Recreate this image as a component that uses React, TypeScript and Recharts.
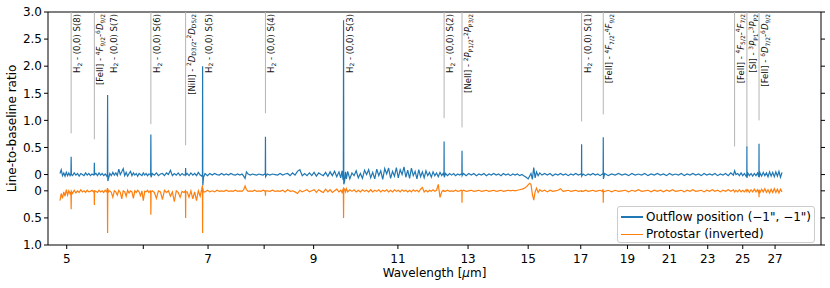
import { LineChart, Line, XAxis, YAxis, ReferenceLine } from "recharts";

// Wavelength grid (µm), shared by both spectra
const wavelengths = [
  4.92, 4.935, 4.95, 4.965, 4.98, 4.995, 5.01, 5.025, 5.04, 5.05, 5.053, 5.056,
  5.07, 5.09, 5.11, 5.13, 5.15, 5.17, 5.19, 5.21, 5.23, 5.25, 5.27, 5.29, 5.31, 5.33, 5.337, 5.34, 5.343,
  5.36, 5.38, 5.4, 5.42, 5.44, 5.46, 5.48, 5.5, 5.508, 5.511, 5.514,
  5.525, 5.54, 5.56, 5.58, 5.6, 5.62, 5.64, 5.66, 5.68, 5.7, 5.72, 5.74, 5.76, 5.78, 5.8, 5.82, 5.84, 5.86, 5.88, 5.9, 5.92, 5.94, 5.96, 5.98, 6.0, 6.02, 6.04, 6.06, 6.08, 6.1, 6.106, 6.109, 6.112,
  6.13, 6.16, 6.19, 6.22, 6.25, 6.28, 6.31, 6.34, 6.37, 6.4, 6.43, 6.46, 6.49, 6.52, 6.55, 6.58, 6.61, 6.633, 6.636, 6.639,
  6.66, 6.69, 6.72, 6.75, 6.78, 6.81, 6.84, 6.87, 6.895, 6.907, 6.91, 6.913, 6.925,
  6.95, 6.99, 7.03, 7.07, 7.11, 7.15, 7.19, 7.23, 7.27, 7.31, 7.35, 7.39, 7.43, 7.47, 7.51, 7.55, 7.59, 7.62, 7.645, 7.67, 7.7, 7.74, 7.78, 7.82, 7.86, 7.9, 7.94, 7.98, 8.01, 8.022, 8.025, 8.028,
  8.06, 8.11, 8.16, 8.21, 8.26, 8.31, 8.36, 8.41, 8.46, 8.51, 8.56, 8.61, 8.66, 8.71, 8.76, 8.81, 8.86, 8.91, 8.96, 9.01, 9.06, 9.11, 9.16, 9.21, 9.26, 9.31, 9.36, 9.41, 9.46, 9.51, 9.56, 9.6, 9.63, 9.65, 9.66, 9.665, 9.67, 9.69, 9.71, 9.73,
  9.76, 9.81, 9.86, 9.91, 9.96, 10.01, 10.06, 10.11, 10.16, 10.21, 10.26, 10.31, 10.36, 10.41, 10.46, 10.51, 10.56, 10.61, 10.66, 10.71, 10.76, 10.81, 10.86, 10.91, 10.96, 11.01, 11.06, 11.11, 11.16, 11.21, 11.26, 11.31, 11.36, 11.41, 11.46, 11.51, 11.56, 11.61, 11.66, 11.71, 11.76, 11.81, 11.86, 11.91, 11.96, 12.01, 12.06, 12.11, 12.16, 12.21, 12.25, 12.275, 12.279, 12.283,
  12.32, 12.38, 12.44, 12.5, 12.56, 12.62, 12.68, 12.74, 12.79, 12.809, 12.814, 12.819,
  12.86, 12.94, 13.02, 13.1, 13.18, 13.26, 13.34, 13.42, 13.5, 13.58, 13.66, 13.74, 13.82, 13.9, 13.98, 14.06, 14.14, 14.22, 14.3, 14.38, 14.46, 14.54, 14.62, 14.7, 14.78, 14.84, 14.9, 14.95, 15.0, 15.05, 15.1, 15.15, 15.2, 15.25, 15.3, 15.36, 15.42, 15.5,
  15.6, 15.7, 15.8, 15.9, 16.0, 16.1, 16.2, 16.3, 16.4, 16.5, 16.6, 16.7, 16.8, 16.9, 17.0, 17.03, 17.035, 17.04,
  17.1, 17.2, 17.3, 17.4, 17.5, 17.6, 17.7, 17.8, 17.9, 17.93, 17.936, 17.942,
  18.0, 18.15, 18.3, 18.45, 18.6, 18.75, 18.9, 19.05, 19.2, 19.35, 19.5, 19.65, 19.8, 19.95, 20.1, 20.25, 20.4, 20.55, 20.7, 20.85, 21.0, 21.15, 21.3, 21.45, 21.6, 21.75, 21.9, 22.05, 22.2, 22.35, 22.5, 22.65, 22.8, 22.95, 23.1, 23.25, 23.4, 23.55, 23.7, 23.85, 24.0, 24.15, 24.3, 24.45, 24.52, 24.6,
  24.7, 24.8, 24.9, 25.0, 25.1, 25.2, 25.243, 25.249, 25.255,
  25.3, 25.4, 25.5, 25.6, 25.7, 25.8, 25.9, 25.95, 25.982, 25.988, 25.994,
  26.05, 26.15, 26.25, 26.35, 26.45, 26.55, 26.65, 26.75, 26.85, 26.95, 27.05, 27.15, 27.25, 27.35, 27.45,
];

// Outflow position (-1", -1"), line-to-baseline ratio
const outflow = [
  0.02, 0.09, -0.02, 0.03, -0.03, 0.04, -0.02, 0.03, -0.02, 0.01, 0.33, 0.0,
  -0.02, 0.03, -0.01, 0.02, -0.03, 0.02, 0.0, -0.02, 0.03, -0.01, 0.02, -0.02, 0.01, -0.01, 0.0, 0.22, 0.0,
  0.02, -0.02, 0.03, -0.01, 0.02, -0.02, 0.01, -0.03, 0.0, 1.47, -0.12,
  -0.06, 0.02, -0.02, 0.04, -0.01, 0.03, -0.02, 0.1, 0.0, 0.05, 0.11, -0.02, 0.04, -0.03, 0.02, 0.06, -0.02, 0.03, -0.01, 0.02, -0.03, 0.02, 0.0, -0.02, 0.03, -0.01, 0.02, -0.02, 0.01, 0.0, -0.02, 0.74, -0.05,
  0.02, -0.01, 0.03, -0.02, 0.01, 0.02, -0.02, 0.03, 0.0, 0.08, -0.02, 0.02, -0.01, 0.03, -0.02, 0.02, -0.01, 0.0, 0.12, -0.01,
  0.02, -0.02, 0.03, -0.01, 0.02, -0.02, 0.04, -0.01, -0.03, 0.0, 2.0, -0.2, -0.05,
  0.02, -0.02, 0.02, -0.01, 0.02, 0.0, -0.01, 0.02, -0.01, 0.01, -0.01, 0.02, 0.0, -0.01, 0.01, -0.01, 0.01, -0.03, -0.07, 0.05, 0.01, -0.01, 0.01, 0.0, -0.01, 0.01, 0.0, -0.01, 0.01, 0.0, 0.7, -0.04,
  0.01, -0.01, 0.01, 0.0, -0.01, 0.02, -0.01, 0.01, 0.02, -0.02, 0.03, -0.01, 0.06, 0.09, -0.02, 0.02, -0.02, 0.03, -0.02, 0.04, -0.03, 0.03, 0.0, -0.02, 0.04, -0.03, 0.05, -0.02, 0.06, -0.04, 0.05, -0.06, 0.07, -0.08, -0.1, 2.85, -0.18, -0.12, 0.05, -0.08,
  0.06, -0.08, 0.03, -0.02, 0.07, -0.06, 0.02, -0.07, 0.08, 0.0, 0.09, -0.06, 0.04, -0.08, 0.1, -0.02, 0.07, -0.09, 0.11, 0.01, 0.12, -0.07, 0.06, -0.03, 0.13, -0.06, 0.09, 0.0, 0.14, -0.05, 0.08, -0.07, 0.12, -0.02, 0.06, -0.08, 0.09, -0.04, 0.05, -0.06, 0.07, -0.02, 0.04, -0.05, 0.05, -0.02, 0.03, -0.04, 0.04, -0.02, 0.02, -0.02, 0.61, -0.05,
  0.02, -0.02, 0.02, -0.01, 0.02, -0.02, 0.01, -0.01, 0.01, 0.0, 0.44, -0.02,
  0.02, -0.02, 0.02, -0.01, 0.02, -0.02, 0.01, -0.01, 0.02, -0.02, 0.01, -0.01, 0.02, -0.01, 0.01, -0.02, 0.02, -0.01, 0.01, -0.02, 0.01, -0.01, 0.01, -0.02, 0.0, -0.02, -0.04, -0.06, -0.08, -0.03, 0.02, -0.09, 0.13, -0.06, 0.05, -0.02, 0.03, -0.01,
  0.02, -0.01, 0.02, -0.02, 0.01, -0.01, 0.02, -0.01, 0.01, -0.02, 0.01, -0.01, 0.02, -0.01, 0.01, -0.01, 0.56, -0.03,
  0.01, -0.02, 0.01, -0.01, 0.02, -0.01, 0.01, -0.02, 0.01, 0.0, 0.69, -0.08,
  0.02, -0.02, 0.01, -0.01, 0.02, -0.01, 0.01, -0.02, 0.02, -0.01,
  0.01, -0.01, 0.02, -0.02, 0.01, -0.01, 0.02, -0.01, 0.01, -0.02,
  0.02, -0.01, 0.01, -0.01, 0.02, -0.02, 0.01, -0.01, 0.02, -0.01,
  0.01, -0.02, 0.02, -0.01, 0.01, -0.01, 0.02, -0.02, 0.01, -0.01,
  0.02, -0.02, 0.03, -0.01, 0.07, 0.0,
  0.02, -0.02, 0.03, -0.02, 0.02, -0.03, 0.0, 0.52, -0.06,
  0.03, -0.02, 0.02, -0.03, 0.02, -0.02, 0.03, -0.02, 0.0, 0.57, -0.05,
  0.03, -0.03, 0.04, -0.02, 0.03, -0.04, 0.05, -0.03, 0.04, -0.04, 0.05, -0.03, 0.06, -0.05, 0.04,
];

// Protostar, line-to-baseline ratio (drawn inverted below the outflow spectrum)
const protostar = [
  0.18, 0.05, 0.14, 0.02, 0.1, -0.02, 0.08, 0.0, 0.05, 0.02, 0.34, 0.01,
  0.05, -0.01, 0.04, 0.0, 0.03, -0.02, 0.02, 0.0, 0.03, -0.01, 0.02, 0.01, -0.01, 0.02, 0.0, 0.26, 0.0,
  0.01, 0.03, -0.01, 0.02, 0.0, 0.03, -0.01, 0.02, -0.05, 0.78, -0.04,
  0.02, 0.0, 0.03, 0.12, 0.0, 0.02, 0.08, -0.01, 0.03, 0.15, 0.0, 0.02, 0.1, -0.01, 0.04, 0.0, 0.02, 0.14, 0.0, 0.03, -0.01, 0.02, 0.09, 0.0, 0.18, 0.01, 0.02, -0.01, 0.03, 0.0, 0.02, 0.44, 0.02,
  0.0, 0.03, 0.14, 0.0, 0.02, 0.16, -0.01, 0.03, 0.0, 0.1, 0.02, 0.2, 0.0, 0.03, 0.12, 0.01, 0.03, 0.0, 0.5, 0.02,
  0.02, 0.12, 0.0, 0.15, 0.02, 0.18, 0.0, 0.1, -0.03, -0.1, 0.78, -0.05, 0.02,
  0.02, -0.01, 0.02, 0.0, 0.02, -0.01, 0.01, 0.0, 0.01, -0.01, 0.01, 0.0, 0.01, -0.01, 0.01, 0.0, 0.01, -0.02, -0.09, -0.02, 0.01, 0.0, 0.01, -0.01, 0.01, 0.0, 0.01, -0.01, 0.0, 0.02, 0.09, 0.0,
  0.0, 0.01, -0.01, 0.01, 0.0, 0.01, -0.01, 0.02, -0.02, 0.01, 0.0, 0.02, 0.05, -0.01, 0.02, 0.0, -0.02, 0.02, 0.0, -0.02, 0.03, -0.02, 0.01, 0.03, -0.03, 0.02, -0.02, 0.03, 0.0, -0.03, 0.02, -0.01, 0.03, -0.02, 0.0, 0.5, -0.05, -0.03, 0.02, -0.04,
  0.02, -0.02, 0.01, -0.02, 0.02, -0.01, 0.02, -0.02, 0.01, -0.01, 0.02, -0.02, 0.02, -0.01, 0.01, -0.02, 0.02, -0.01, 0.01, -0.02, 0.02, -0.01, 0.02, -0.02, 0.01, -0.01, 0.02, -0.02, 0.01, -0.01, 0.02, -0.01, 0.02, -0.02, 0.01, -0.01, 0.02, -0.03, -0.06, 0.02, -0.01, 0.02, -0.01, 0.01, -0.02, 0.01, -0.01, -0.12, 0.12, 0.02, -0.01, 0.0, 0.02, 0.0,
  0.01, -0.01, 0.01, 0.0, 0.01, -0.01, 0.01, 0.0, -0.01, 0.0, 0.22, 0.0,
  -0.01, 0.01, 0.0, -0.01, 0.01, 0.0, -0.01, 0.01, 0.0, -0.01, 0.01, 0.0, -0.01, 0.01, 0.0, -0.01, 0.01, 0.0, -0.01, 0.0, -0.01, 0.0, -0.01, -0.02, -0.03, -0.04, -0.06, -0.08, -0.11, -0.14, -0.12, 0.06, 0.17, 0.02, -0.05, 0.03, -0.02, 0.01,
  -0.01, 0.02, -0.01, 0.01, 0.0, -0.01, -0.04, 0.01, 0.0, -0.01, 0.01, 0.0, -0.01, 0.01, 0.0, 0.0, 0.02, 0.0,
  0.01, -0.01, 0.01, 0.0, -0.01, 0.01, 0.0, -0.01, 0.01, -0.03, 0.22, 0.02,
  0.01, -0.01, 0.02, -0.01, 0.01, 0.0, -0.01, 0.02, -0.01, 0.01,
  -0.02, 0.01, 0.0, -0.01, 0.02, -0.01, 0.01, -0.01, 0.02, -0.01,
  0.01, -0.02, 0.01, 0.0, -0.01, 0.02, -0.01, 0.01, -0.02, 0.01,
  0.0, -0.01, 0.02, -0.01, 0.01, -0.02, 0.01, -0.01, 0.02, -0.01,
  0.01, -0.02, 0.01, -0.02, 0.02, -0.01,
  0.02, -0.02, 0.02, -0.01, 0.02, -0.02, 0.01, 0.03, -0.01,
  -0.02, 0.03, -0.02, 0.02, -0.03, 0.02, -0.02, 0.02, 0.0, 0.12, -0.02,
  0.03, -0.03, 0.02, -0.04, 0.03, -0.02, 0.04, -0.03, 0.03, -0.04, 0.03, -0.03, 0.04, -0.03, 0.02,
];

// Line identifications: wavelength, label, lower end of the marker line (null = no line)
const lineWavelengths = [5.053, 5.34, 5.511, 6.109, 6.636, 6.91, 8.025, 9.665, 12.279, 12.814, 17.035, 17.936, 24.519, 25.249, 25.988];
const lineLabels = [
  "H_{2} - (0,0) S(8)",
  "[FeII] - ^{4}*F*_{9/2}-^{6}*D*_{9/2}",
  "H_{2} - (0,0) S(7)",
  "H_{2} - (0,0) S(6)",
  "[NiII] - ^{2}*D*_{D3/2}-^{2}*D*_{D5/2}",
  "H_{2} - (0,0) S(5)",
  "H_{2} - (0,0) S(4)",
  "H_{2} - (0,0) S(3)",
  "H_{2} - (0,0) S(2)",
  "[NeII] - ^{2}*P*_{P1/2}-^{2}*P*_{P3/2}",
  "H_{2} - (0,0) S(1)",
  "[FeII] - ^{4}*F*_{7/2}-^{4}*F*_{9/2}",
  "[FeII] - ^{4}*F*_{5/2}-^{4}*F*_{7/2}",
  "[SI] - ^{3}*P*_{P1}-^{3}*P*_{P2}",
  "[FeII] - ^{6}*D*_{7/2}-^{6}*D*_{9/2}",
];
const lineBottoms = [0.76, 0.65, null, 0.93, 0.54, null, 1.13, null, 1.04, 0.87, 0.98, 1.11, 0.52, 0.5, 1.0];

const xTicks = [5, 6, 7, 8, 9, 11, 13, 15, 17, 19, 20, 21, 23, 25, 27];
const xTickLabels = ["5", "", "7", "", "9", "11", "13", "15", "17", "19", "", "21", "23", "25", "27"];
const yTicks = [3, 2.5, 2, 1.5, 1, 0.5, 0, -0.3, -0.8, -1.3];
const yTickLabels = ["3.0", "2.5", "2.0", "1.5", "1.0", "0.5", "0", "0", "0.5", "1.0"];

const PROTO_OFFSET = -0.3;
const BLUE = "#1f77b4";
const ORANGE = "#ff7f0e";
const FONT = "DejaVu Sans, sans-serif";

const chartData = wavelengths.map((w, i) => ({
  w,
  outflow: outflow[i],
  protostar: PROTO_OFFSET - protostar[i],
}));

function richText(s: string, fs: number) {
  const parts = s.split(/(\^\{[^}]*\}|_\{[^}]*\}|\*[^*]+\*)/).filter(Boolean);
  let shift = 0;
  return parts.map((p, i) => {
    let target = 0;
    let size = fs;
    let italic = false;
    let txt = p;
    if (p.startsWith("^{")) {
      target = -0.38 * fs;
      size = fs * 0.7;
      txt = p.slice(2, -1);
    } else if (p.startsWith("_{")) {
      target = 0.22 * fs;
      size = fs * 0.7;
      txt = p.slice(2, -1);
    } else if (p.startsWith("*")) {
      italic = true;
      txt = p.slice(1, -1);
    }
    const dy = target - shift;
    shift = target;
    return (
      <tspan key={i} dy={dy} fontSize={size} fontStyle={italic ? "italic" : "normal"}>
        {txt}
      </tspan>
    );
  });
}

function LineLabel(props: any) {
  const vb = props.viewBox || { x: 0, y: 12 };
  const x = vb.x + 9;
  const y = vb.y + 2;
  return (
    <text
      x={x}
      y={y}
      transform={`rotate(-90 ${x} ${y})`}
      textAnchor="end"
      fontSize={8.5}
      fontFamily={FONT}
      fill="#111"
    >
      {richText(props.text, 8.5)}
    </text>
  );
}

function XLabel(props: any) {
  const vb = props.viewBox;
  return (
    <text x={vb.x + vb.width / 2} y={vb.y + 32} textAnchor="middle" fontSize={12} fontFamily={FONT} fill="#000">
      Wavelength [<tspan fontStyle="italic">μ</tspan>m]
    </text>
  );
}

function YLabel(props: any) {
  const vb = props.viewBox;
  const x = vb.x + 8;
  const y = vb.y + vb.height / 2;
  return (
    <text x={x} y={y} transform={`rotate(-90 ${x} ${y})`} textAnchor="middle" fontSize={12} fontFamily={FONT} fill="#000">
      Line-to-baseline ratio
    </text>
  );
}

const legendItems = [
  { name: "Outflow position (−1\", −1\")", color: BLUE },
  { name: "Protostar (inverted)", color: ORANGE },
];

export default function App() {
  return (
    <div style={{ position: "absolute", left: 0, top: 0, width: 830, height: 288, background: "#fff" }}>
      <LineChart width={830} height={288} data={chartData} margin={{ top: 12, right: 4, bottom: 13, left: 8 }}>
        <XAxis
          dataKey="w"
          type="number"
          scale="log"
          domain={[4.782, 30.12]}
          allowDataOverflow
          ticks={xTicks}
          interval={0}
          tickFormatter={(v: number) => xTickLabels[xTicks.indexOf(v)] ?? ""}
          tick={{ fontSize: 12, fill: "#000", fontFamily: FONT }}
          tickLine={{ stroke: "#000" }}
          axisLine={{ stroke: "#000" }}
          tickSize={4}
          tickMargin={5}
          height={30}
          label={(p: any) => <XLabel {...p} />}
        />
        <YAxis
          type="number"
          domain={[-1.3, 3]}
          allowDataOverflow
          ticks={yTicks}
          interval={0}
          tickFormatter={(v: number) => yTickLabels[yTicks.indexOf(v)] ?? ""}
          tick={{ fontSize: 12, fill: "#000", fontFamily: FONT }}
          tickLine={{ stroke: "#000" }}
          axisLine={{ stroke: "#000" }}
          tickSize={4}
          width={40}
          label={(p: any) => <YLabel {...p} />}
        />
        <YAxis
          yAxisId="right"
          orientation="right"
          type="number"
          domain={[-1.3, 3]}
          allowDataOverflow
          ticks={yTicks}
          interval={0}
          tickFormatter={() => ""}
          tickLine={{ stroke: "#000" }}
          axisLine={{ stroke: "#000" }}
          tickSize={4}
          width={5}
        />
        <ReferenceLine y={3} stroke="#000" strokeWidth={1} />
        {lineWavelengths.map((w, i) => (
          <ReferenceLine
            key={`ann-${i}`}
            segment={[
              { x: w, y: lineBottoms[i] ?? 2.99 },
              { x: w, y: 3 },
            ]}
            stroke={lineBottoms[i] == null ? "none" : "#b4b4b4"}
            strokeWidth={1}
            label={(p: any) => <LineLabel {...p} text={lineLabels[i]} />}
          />
        ))}
        <Line
          dataKey="outflow"
          type="linear"
          stroke={BLUE}
          strokeWidth={1.2}
          dot={false}
          isAnimationActive={false}
        />
        <Line
          dataKey="protostar"
          type="linear"
          stroke={ORANGE}
          strokeWidth={1.2}
          dot={false}
          isAnimationActive={false}
        />
      </LineChart>
      <div
        style={{
          position: "absolute",
          left: 617,
          top: 206,
          width: 198,
          height: 37,
          boxSizing: "border-box",
          border: "1px solid #cccccc",
          borderRadius: 3,
          background: "rgba(255,255,255,0.8)",
          padding: "1px 0 0 3px",
          fontFamily: FONT,
          fontSize: 12,
          color: "#000",
        }}
      >
        {legendItems.map((it) => (
          <div key={it.name} style={{ display: "flex", alignItems: "center", height: 17.5 }}>
            <span style={{ display: "inline-block", width: 22, height: 1.5, background: it.color, marginRight: 3 }} />
            <span style={{ whiteSpace: "nowrap" }}>{it.name}</span>
          </div>
        ))}
      </div>
    </div>
  );
}
